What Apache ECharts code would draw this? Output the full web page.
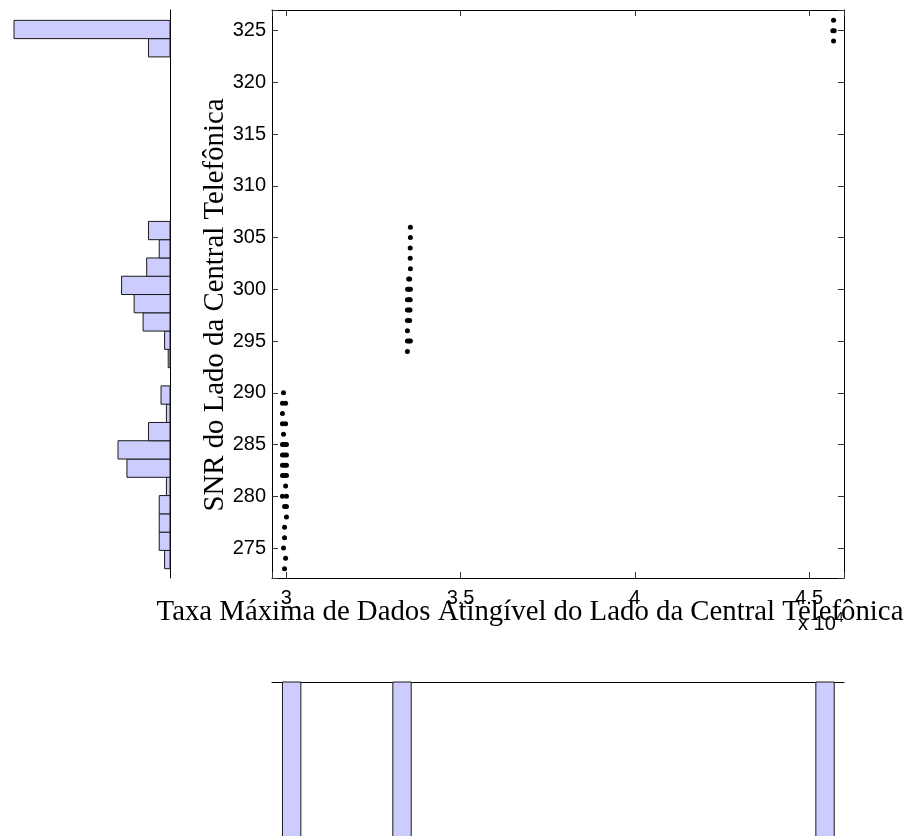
<!DOCTYPE html>
<html><head><meta charset="utf-8">
<script src="https://cdn.jsdelivr.net/npm/echarts@6/dist/echarts.min.js"></script>
<style>html,body{margin:0;padding:0;background:#fff}#c{width:908px;height:836px}</style>
</head><body><div id="c"></div>
<script>
// ---- scatter points: data rate (x) and SNR (y) ----
const scatterX = [
  // column near 3.0e4
  29920, 29890, 29980, 29890, 29890, 29980, 29920,
  29890, 29950, 30005, 29890, 29950, 30005, 29890, 29950, 30005, 29890, 29950, 30005,
  29980, 29890, 30005, 29950, 30005, 30005, 29950, 29950, 29920, 29980, 29950,
  // column near 3.35e4
  33560, 33560, 33555, 33555, 33560, 33510, 33540, 33480, 33520, 33560,
  33475, 33515, 33555, 33475, 33520, 33550, 33475, 33540, 33475, 33475, 33520, 33560, 33475,
  // column near 4.57e4
  45700, 45680, 45720, 45700
];
const scatterY = [
  290, 289, 289, 288, 287, 287, 286,
  285, 285, 285, 284, 284, 284, 283, 283, 283, 282, 282, 282,
  281, 280, 280, 279, 279, 278, 277, 276, 275, 274, 273,
  306, 305, 304, 303, 302, 301, 301, 300, 300, 300,
  299, 299, 299, 298, 298, 298, 297, 297, 296, 295, 295, 295, 294,
  326, 325, 325, 324
];

// ---- left histogram (SNR), 30 bins over [273, 326] ----
const snrBinMin = 273, snrBinMax = 326;
const snrCounts = [3, 6, 6, 6, 2, 24, 29, 12, 2, 5, 0, 1, 3, 15, 20, 27, 13, 6, 12, 0,
                   0, 0, 0, 0, 0, 0, 0, 0, 12, 87];

// ---- bottom histogram (data rate), 30 bins over [29890, 45720] ----
const rateBinMin = 29890, rateBinMax = 45720;
const rateCounts = [95, 0, 0, 0, 0, 0, 97, 0, 0, 0, 0, 0, 0, 0, 0, 0, 0, 0, 0, 0,
                    0, 0, 0, 0, 0, 0, 0, 0, 0, 99];

// ---- axis ranges / labels ----
const xRange = [29590, 46000];
const yRange = [272.1, 327];
const xLabelText = 'Taxa Máxima de Dados Atingível do Lado da Central Telefônica';
const yLabelText = 'SNR do Lado da Central Telefônica';

const scatterData = scatterX.map((x, i) => [x, scatterY[i]]);
const snrW = (snrBinMax - snrBinMin) / snrCounts.length;
const snrData = snrCounts.map((c, k) => [snrBinMin + k * snrW, snrBinMin + (k + 1) * snrW, c]);
const rateW = (rateBinMax - rateBinMin) / rateCounts.length;
const rateData = rateCounts.map((c, k) => [rateBinMin + k * rateW, rateBinMin + (k + 1) * rateW, c]);

const BAR_FILL = '#ccccff', BAR_EDGE = '#1a1a1a';
const sans = "'Liberation Sans', Arial, sans-serif";
const serif = "'Liberation Serif', 'Times New Roman', serif";

const tickStyle = {inside: true, length: 6, lineStyle: {color: '#333', width: 1}};
const lineStyle = {show: true, onZero: false, lineStyle: {color: '#000', width: 1}};

const chart = echarts.init(document.getElementById('c'), null, {renderer: 'canvas'});
chart.setOption({
  animation: false,
  backgroundColor: '#fff',
  grid: [
    {left: 272, top: 10, width: 572, height: 568, outerBoundsMode: 'none', containLabel: false},
    {left: 14, top: 10, width: 156, height: 568, outerBoundsMode: 'none', containLabel: false},
    {left: 272, top: 682, width: 572, height: 200, outerBoundsMode: 'none', containLabel: false}
  ],
  xAxis: [
    {gridIndex: 0, type: 'value', min: xRange[0], max: xRange[1], splitNumber: 3, position: 'bottom',
     axisLine: lineStyle, axisTick: tickStyle, splitLine: {show: false},
     axisLabel: {margin: 10, color: '#000', fontSize: 20, fontFamily: sans,
       formatter: v => (Math.abs(v % 5000) < 1e-6 ? String(v / 1e4) : '')}},
    {gridIndex: 0, type: 'value', min: xRange[0], max: xRange[1], splitNumber: 3, position: 'top',
     axisLine: lineStyle, axisTick: tickStyle, splitLine: {show: false}, axisLabel: {show: false}},
    {gridIndex: 1, type: 'value', min: 0, max: 87, inverse: true, show: false},
    {gridIndex: 2, type: 'value', min: xRange[0], max: xRange[1], position: 'top',
     axisLine: lineStyle, axisTick: {show: false}, axisLabel: {show: false}, splitLine: {show: false}}
  ],
  yAxis: [
    {gridIndex: 0, type: 'value', min: yRange[0], max: yRange[1], splitNumber: 10, position: 'left',
     axisLine: lineStyle, axisTick: tickStyle, splitLine: {show: false},
     axisLabel: {margin: 6, color: '#000', fontSize: 20, fontFamily: sans,
       formatter: v => (Math.abs(v % 5) < 1e-6 ? String(v) : '')}},
    {gridIndex: 0, type: 'value', min: yRange[0], max: yRange[1], splitNumber: 10, position: 'right',
     axisLine: lineStyle, axisTick: tickStyle, splitLine: {show: false}, axisLabel: {show: false}},
    {gridIndex: 1, type: 'value', min: yRange[0], max: yRange[1], position: 'right',
     axisLine: lineStyle, axisTick: {show: false}, axisLabel: {show: false}, splitLine: {show: false}},
    {gridIndex: 2, type: 'value', min: 0, max: 99, inverse: true, show: false}
  ],
  series: [
    {type: 'scatter', xAxisIndex: 0, yAxisIndex: 0, data: scatterData, symbol: 'circle', symbolSize: 5,
     itemStyle: {color: '#000', opacity: 1}, silent: true},
    {type: 'custom', xAxisIndex: 2, yAxisIndex: 2, data: snrData, silent: true,
     encode: {x: 2, y: [0, 1]},
     renderItem: (params, api) => {
       const c = api.value(2);
       if (!c) return null;
       const p0 = api.coord([0, api.value(0)]);
       const p1 = api.coord([c, api.value(1)]);
       return {type: 'rect', shape: {x: Math.min(p0[0], p1[0]), y: Math.min(p0[1], p1[1]),
         width: Math.abs(p1[0] - p0[0]), height: Math.abs(p1[1] - p0[1])},
         style: {fill: BAR_FILL, stroke: BAR_EDGE, lineWidth: 1}};
     }},
    {type: 'custom', xAxisIndex: 3, yAxisIndex: 3, data: rateData, silent: true,
     encode: {x: [0, 1], y: 2},
     renderItem: (params, api) => {
       const c = api.value(2);
       if (!c) return null;
       const p0 = api.coord([api.value(0), 0]);
       const p1 = api.coord([api.value(1), c]);
       return {type: 'rect', shape: {x: Math.min(p0[0], p1[0]), y: Math.min(p0[1], p1[1]),
         width: Math.abs(p1[0] - p0[0]), height: Math.abs(p1[1] - p0[1])},
         style: {fill: BAR_FILL, stroke: BAR_EDGE, lineWidth: 1}};
     }}
  ],
  graphic: [
    {type: 'text', x: 798, y: 637, silent: true,
     style: {text: 'x 10{s|4}', font: '20px ' + sans, fill: '#000', align: 'left', verticalAlign: 'bottom',
       rich: {s: {fontSize: 14, fontFamily: sans, verticalAlign: 'top', padding: [0, 0, 12, 0]}}}},
    {type: 'text', x: 530, y: 612, silent: true,
     style: {text: xLabelText, font: '28.8px ' + serif, fill: '#000', align: 'center', verticalAlign: 'middle'}},
    {type: 'text', x: 215, y: 305, rotation: Math.PI / 2, silent: true,
     style: {text: yLabelText, font: '28.8px ' + serif, fill: '#000', align: 'center', verticalAlign: 'middle'}}
  ]
});
</script>
</body></html>
